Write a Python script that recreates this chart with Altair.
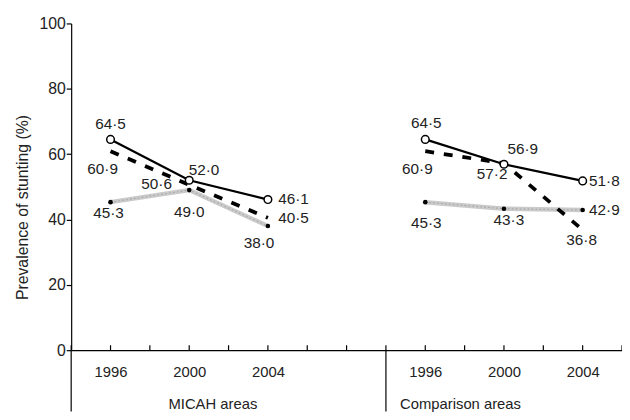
import altair as alt
import pandas as pd

# ---- data ----
years = [1996, 2000, 2004]
panels = ["MICAH areas", "Comparison areas"]
series_names = ["solid", "dashed", "grey"]

micah_solid = [64.5, 52.0, 46.1]
micah_dashed = [60.9, 50.6, 40.5]
micah_grey = [45.3, 49.0, 38.0]
comp_solid = [64.5, 56.9, 51.8]
comp_dashed = [60.9, 57.2, 36.8]
comp_grey = [45.3, 43.3, 42.9]

y_ticks = [0, 20, 40, 60, 80, 100]

# ---- layout (axis units / pixel offsets) ----
panel_start = {"MICAH areas": 0, "Comparison areas": 8}
panel_label_dx = {"MICAH areas": 24, "Comparison areas": -44}
label_offsets = {
    ("MICAH areas", "solid"): [(0, -16), (15, -10), (26, 0)],
    ("MICAH areas", "dashed"): [(-8, 18), (-33, -1), (26, 0)],
    ("MICAH areas", "grey"): [(-2, 11), (0, 22), (-9, 17)],
    ("Comparison areas", "solid"): [(1, -17), (19, -15), (22, 0)],
    ("Comparison areas", "dashed"): [(-8, 18), (-12, 11), (-1, 10)],
    ("Comparison areas", "grey"): [(1, 21), (5, 11), (22, 0)],
}

values = {
    ("MICAH areas", "solid"): micah_solid,
    ("MICAH areas", "dashed"): micah_dashed,
    ("MICAH areas", "grey"): micah_grey,
    ("Comparison areas", "solid"): comp_solid,
    ("Comparison areas", "dashed"): comp_dashed,
    ("Comparison areas", "grey"): comp_grey,
}


def year_pos(panel, year):
    return panel_start[panel] + 1 + (year - years[0]) / 2


rows = []
for (panel, s), vals in values.items():
    for i, (yr, v) in enumerate(zip(years, vals)):
        dx, dy = label_offsets[(panel, s)][i]
        rows.append(dict(panel=panel, series=s, year=yr, value=v,
                         pos=year_pos(panel, yr),
                         label=f"{v:.1f}".replace(".", "\u00b7"),
                         off=f"{dx},{dy}"))
df = pd.DataFrame(rows)

W, H = 558, 331
X_MAX = 14
FONT = "Liberation Sans"
TXT = "#222222"

tick_df = pd.DataFrame({"pos": list(range(0, X_MAX + 1))})
bound_df = pd.DataFrame({"pos": [panel_start[p] for p in panels]})
plab_df = pd.DataFrame({
    "panel": panels,
    "pos": [year_pos(p, years[len(years) // 2]) for p in panels],
})

# label expression for year ticks
conds = []
for p in panels:
    for yr in years:
        conds.append(f"datum.value == {year_pos(p, yr)} ? '{yr}'")
label_expr = " : ".join(conds) + " : ''"
year_ticks = [year_pos(p, yr) for p in panels for yr in years]

xscale = alt.Scale(domain=[0, X_MAX], nice=False, zero=False)
yscale = alt.Scale(domain=[0, 100], nice=False)

x_enc = alt.X("pos:Q", scale=xscale,
              axis=alt.Axis(values=year_ticks, labelExpr=label_expr, title=None,
                            grid=False, ticks=False, domainColor="black",
                            domainWidth=1.2, labelFontSize=15, labelFont=FONT,
                            labelColor=TXT, labelPadding=15))
y_enc = alt.Y("value:Q", scale=yscale,
              axis=alt.Axis(values=y_ticks, title="Prevalence of stunting (%)",
                            grid=False, tickSize=5, tickColor="black",
                            domainColor="black", domainWidth=1.2, tickWidth=1.2,
                            labelFontSize=16, labelFont=FONT, labelColor=TXT,
                            labelPadding=1, titleFont=FONT, titleFontSize=16,
                            titleFontWeight="normal", titleColor=TXT,
                            titleX=-41, titleY=186, titleAngle=-90,
                            titleAlign="center", titleBaseline="bottom"))

base = alt.Chart(df)

grey_line = base.transform_filter("datum.series == 'grey'").mark_line(
    color="#cacaca", strokeWidth=4.5).encode(x=x_enc, y=y_enc, detail="panel:N")
grey_tex = base.transform_filter("datum.series == 'grey'").mark_line(
    color="#a5a5a5", strokeWidth=1.2, strokeDash=[1.5, 2.5]).encode(
    x="pos:Q", y="value:Q", detail="panel:N")
dashed_line = base.transform_filter("datum.series == 'dashed'").mark_line(
    color="black", strokeWidth=3.8, strokeDash=[9, 10]).encode(
    x="pos:Q", y="value:Q", detail="panel:N")
solid_line = base.transform_filter("datum.series == 'solid'").mark_line(
    color="black", strokeWidth=2.3).encode(x="pos:Q", y="value:Q", detail="panel:N")
solid_pts = base.transform_filter("datum.series == 'solid'").mark_point(
    shape="circle", filled=True, fill="white", stroke="black", strokeWidth=1.5,
    size=60, opacity=1).encode(x="pos:Q", y="value:Q")
grey_pts = base.transform_filter("datum.series == 'grey'").mark_circle(
    color="black", size=22, opacity=1).encode(x="pos:Q", y="value:Q")

label_layers = []
for off in sorted(df["off"].unique()):
    dx, dy = (int(t) for t in off.split(","))
    label_layers.append(
        base.transform_filter(f"datum.off == '{off}'").mark_text(
            font=FONT, fontSize=15.5, color=TXT, align="center",
            baseline="middle", dx=dx, dy=dy).encode(
            x="pos:Q", y="value:Q", text="label:N"))

ticks = alt.Chart(tick_df).mark_rule(color="black", strokeWidth=1.2).encode(
    x="pos:Q", y=alt.value(H - 5), y2=alt.value(H))
bounds = alt.Chart(bound_df).mark_rule(color="black", strokeWidth=1.2).encode(
    x="pos:Q", y=alt.value(H), y2=alt.value(H + 62))

plabel_layers = []
for p in panels:
    plabel_layers.append(
        alt.Chart(plab_df).transform_filter(f"datum.panel == '{p}'").mark_text(
            font=FONT, fontSize=15, color=TXT, align="center", baseline="middle",
            dx=panel_label_dx[p]).encode(
            x="pos:Q", y=alt.value(H + 55), text="panel:N"))

chart = alt.layer(grey_line, grey_tex, dashed_line, solid_line, solid_pts, grey_pts,
                  *label_layers, ticks, bounds, *plabel_layers).properties(
    width=W, height=H,
    autosize=alt.AutoSizeParams(type="none"),
    padding={"left": 64, "top": 13, "right": 0, "bottom": 62},
).configure_view(stroke=None)

chart.save("out.html", embed_options={"renderer": "svg", "actions": False})
